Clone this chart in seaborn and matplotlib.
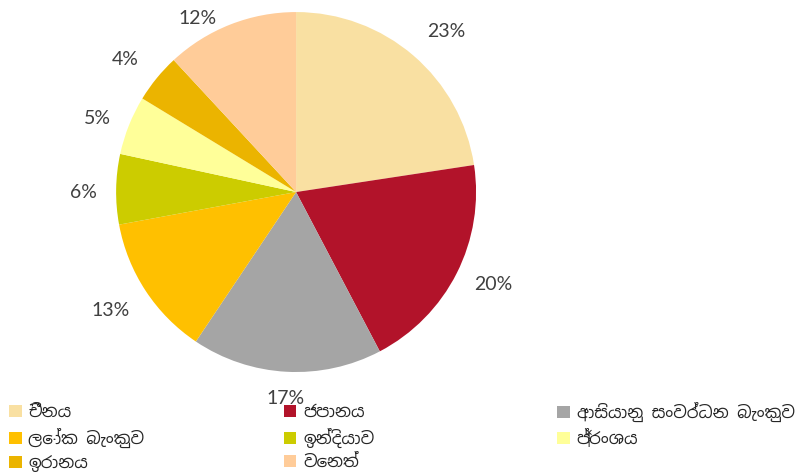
import numpy as np
import pandas as pd
import seaborn as sns
import matplotlib.pyplot as plt

lenders = ['චීනය', 'ජපානය', 'ආසියානු සංවර්ධන බැංකුව', 'ලෝක බැංකුව',
           'ඉන්දියාව', 'ප්‍රංශය', 'ඉරානය', 'වෙනත්']
# shares (labels show the rounded values)
shares = [22.6, 19.7, 17.1, 12.7, 6.3, 5.3, 4.4, 11.9]
colours = ['#F9E0A2', '#B2132A', '#A5A5A5', '#FFC000',
           '#CCCC00', '#FFFF99', '#EBB400', '#FFCC99']

# label placement (Excel "best fit" look): radial distance and clockwise nudge in degrees
label_dist = [1.22, 1.21, 1.15, 1.22, 1.18, 1.18, 1.20, 1.11]
label_nudge = [2.5, -1.8, 0.0, 0.8, -0.9, -1.4, -1.4, -8.0]

df = pd.DataFrame({'lender': lenders, 'share': shares})

sns.set_style('white')
plt.rcParams['font.family'] = ['Noto Sans Sinhala', 'Lato', 'DejaVu Sans']

fig = plt.figure(figsize=(8.09, 4.73), dpi=100)
ax = fig.add_axes([0.1435, 0.2135, 0.445, 0.761])

wedges, texts, autotexts = ax.pie(
    df['share'], colors=sns.color_palette(colours), startangle=90,
    counterclock=False, autopct='%1.0f%%', pctdistance=1.2,
    wedgeprops={'linewidth': 0})
for w, t, d, n in zip(wedges, autotexts, label_dist, label_nudge):
    ang = np.deg2rad((w.theta1 + w.theta2) / 2 - n)
    t.set_position((d * np.cos(ang), d * np.sin(ang)))
    t.set_color('#404040')
    t.set_fontsize(14)
    t.set_fontfamily(['Lato', 'DejaVu Sans'])
    t.set_clip_on(False)
ax.set_xlim(-1, 1)
ax.set_ylim(-1, 1)
ax.set_aspect('equal')

# legend reads row by row: one legend per column
col_x = [0.0114, 0.351, 0.689]
col_y = [0.144, 0.144, 0.151]
for c in range(3):
    idx = list(range(c, len(lenders), 3))
    fig.legend([wedges[i] for i in idx], [lenders[i] for i in idx],
               loc='upper left', bbox_to_anchor=(col_x[c], col_y[c]),
               ncol=1, frameon=False, handlelength=0.75, handleheight=0.75,
               handletextpad=0.4, fontsize=12, labelspacing=0.42,
               borderaxespad=0.0, borderpad=0.0)

fig.savefig('out.png', dpi=100)
